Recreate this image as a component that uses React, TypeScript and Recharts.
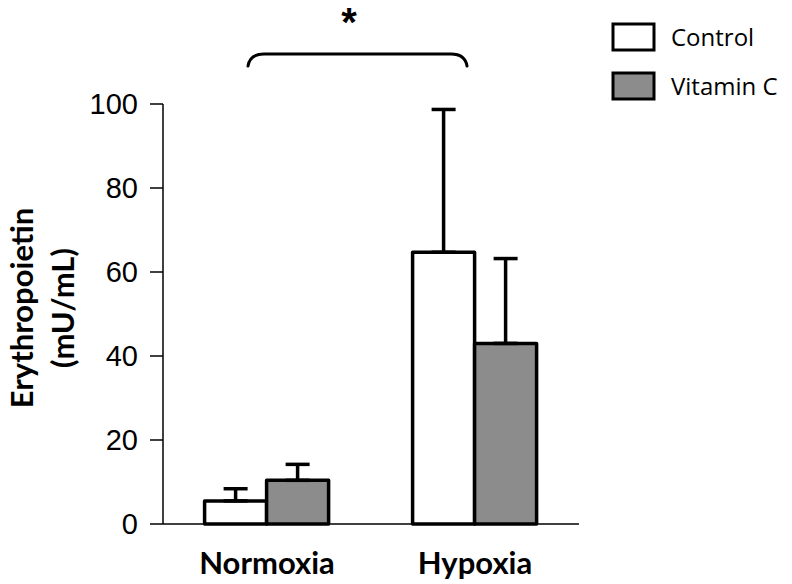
import React from "react";
import { BarChart, Bar, XAxis, YAxis, ErrorBar } from "recharts";

const categories = ["Normoxia", "Hypoxia"];
const controlValues = [5.5, 64.7];
const controlErrors = [2.9, 34.0];
const vitaminCValues = [10.4, 43.0];
const vitaminCErrors = [3.8, 20.2];
const yTicks = [0, 20, 40, 60, 80, 100];
const boundaryTicks = [0, 1, 2];
const seriesNames = ["Control", "Vitamin C"];
const seriesFills = ["#ffffff", "#8c8c8c"];

const data = categories.map((c, i) => ({
  name: c,
  control: controlValues[i],
  controlErr: [0, controlErrors[i]],
  vitc: vitaminCValues[i],
  vitcErr: [0, vitaminCErrors[i]],
}));

const FONT = "'Liberation Sans', Arial, sans-serif";
const TFONT = "Lato, 'Open Sans', sans-serif";

const CatTick = (props: any) => {
  const { x, y, payload } = props;
  return (
    <text x={x} y={y} dy={49} textAnchor="middle" fontFamily={TFONT} fontWeight="bold" fontSize={31} fill="#000">
      {payload.value}
    </text>
  );
};

const YLabel = () => (
  <g>
    <text transform="translate(33,308) rotate(-90)" textAnchor="middle" fontFamily={TFONT} fontWeight="bold" fontSize={31} fill="#000">
      Erythropoietin
    </text>
    <text transform="translate(74,308) rotate(-90)" textAnchor="middle" fontFamily={TFONT} fontWeight="bold" fontSize={31} fill="#000">
      (mU/mL)
    </text>
  </g>
);

export default function App() {
  return (
    <div style={{ position: "absolute", left: 0, top: 0, width: 792, height: 584, background: "#fff", fontFamily: FONT }}>
      <BarChart
        width={792}
        height={584}
        data={data}
        margin={{ top: 104, right: 213, bottom: 20, left: 0 }}
        barCategoryGap="20%"
        barGap={0}
      >
        <XAxis
          xAxisId="a"
          type="number"
          dataKey="none"
          domain={[0, 2]}
          ticks={boundaryTicks}
          tick={false}
          tickSize={9}
          height={1}
          axisLine={{ stroke: "#000", strokeWidth: 1.5 }}
          tickLine={{ stroke: "#000", strokeWidth: 1.5 }}
        />
        <XAxis
          xAxisId="b"
          dataKey="name"
          type="category"
          axisLine={false}
          tickLine={false}
          tickSize={0}
          tickMargin={0}
          height={39}
          tick={<CatTick />}
          interval={0}
        />
        <YAxis
          width={163}
          domain={[0, 100]}
          ticks={yTicks}
          tickSize={13}
          tickMargin={12}
          axisLine={{ stroke: "#000", strokeWidth: 1.5 }}
          tickLine={{ stroke: "#000", strokeWidth: 1.5 }}
          tick={{ fill: "#000", fontSize: 29, fontFamily: FONT }}
          label={<YLabel />}
        />
        <Bar xAxisId="b" dataKey="control" name="Control" fill={seriesFills[0]} stroke="#000" strokeWidth={3.5} strokeLinejoin="round" isAnimationActive={false}>
          <ErrorBar dataKey="controlErr" width={12} stroke="#000" strokeWidth={3.5} direction="y" isAnimationActive={false} />
        </Bar>
        <Bar xAxisId="b" dataKey="vitc" name="Vitamin C" fill={seriesFills[1]} stroke="#000" strokeWidth={3.5} strokeLinejoin="round" isAnimationActive={false}>
          <ErrorBar dataKey="vitcErr" width={12} stroke="#000" strokeWidth={3.5} direction="y" isAnimationActive={false} />
        </Bar>
      </BarChart>
      <svg width={792} height={584} style={{ position: "absolute", left: 0, top: 0, pointerEvents: "none" }}>
        <path d="M248 66 Q250 54 264 54 L451 54 Q465 54 467 66" fill="none" stroke="#000" strokeWidth={3} strokeLinecap="round" />
        <text x={349} y={36} textAnchor="middle" fontFamily={FONT} fontWeight="bold" fontSize={40} fill="#000">*</text>
        {seriesNames.map((n, i) => (
          <g key={n}>
            <rect x={613} y={24 + i * 49} width={41} height={26} fill={seriesFills[i]} stroke="#000" strokeWidth={3} />
            <text x={671} y={46 + i * 49} fontFamily="'Open Sans', sans-serif" fontSize={24} fill="#000">{n}</text>
          </g>
        ))}
      </svg>
    </div>
  );
}
